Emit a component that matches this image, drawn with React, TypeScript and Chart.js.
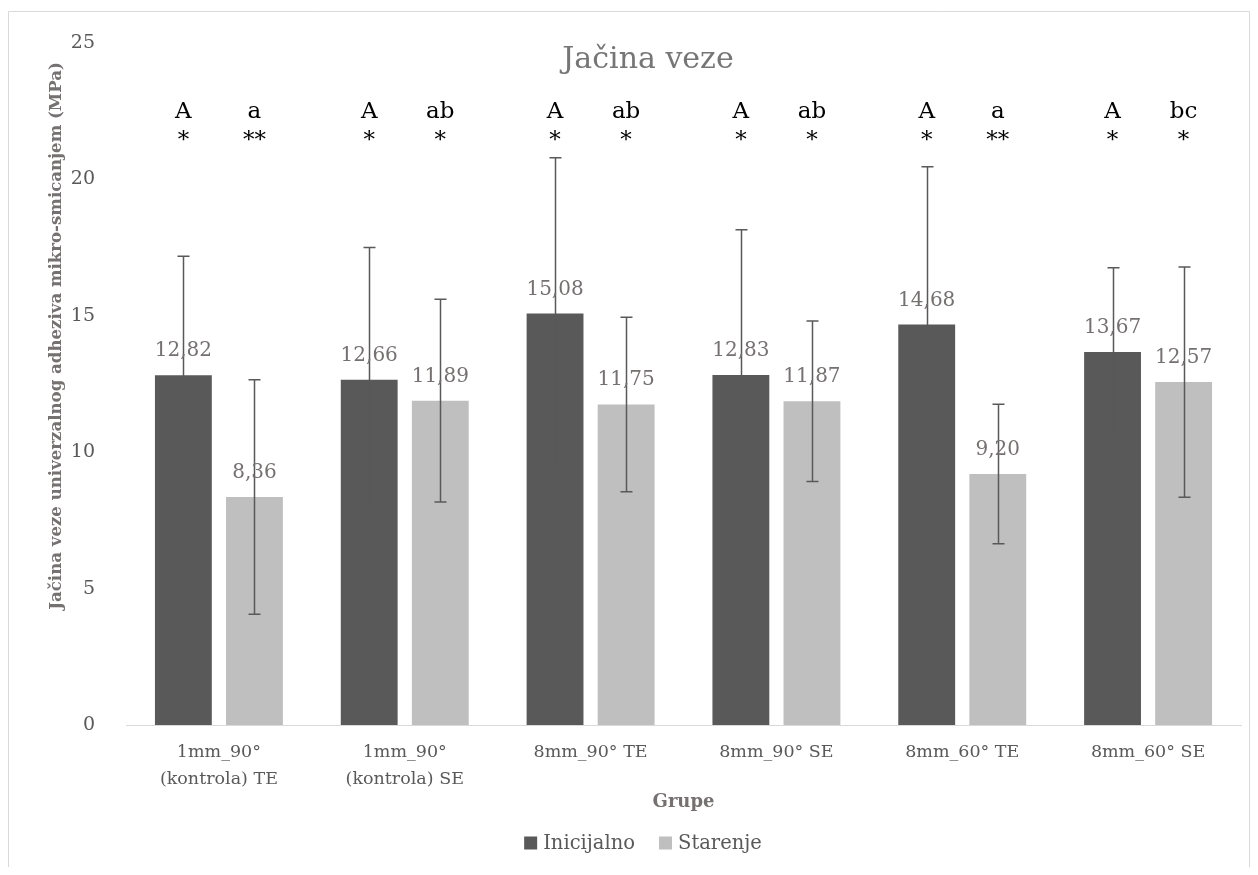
import { useEffect, useRef } from "react";
import { Chart, registerables } from "chart.js";

Chart.register(...registerables);

// Groups shown on the category axis
const categories: (string | string[])[] = [
  ["1mm_90°", "(kontrola) TE"],
  ["1mm_90°", "(kontrola) SE"],
  "8mm_90° TE",
  "8mm_90° SE",
  "8mm_60° TE",
  "8mm_60° SE",
];

// Mean bond strength (MPa)
const inicijalno = [12.82, 12.66, 15.08, 12.83, 14.68, 13.67];
const starenje = [8.36, 11.89, 11.75, 11.87, 9.2, 12.57];

// Standard deviations (error bars)
const inicijalnoSD = [4.36, 4.84, 5.71, 5.32, 5.78, 3.09];
const starenjeSD = [4.3, 3.72, 3.2, 2.94, 2.56, 4.22];

// Significance letters and stars above each bar
const inicijalnoLetters = ["A", "A", "A", "A", "A", "A"];
const starenjeLetters = ["a", "ab", "ab", "ab", "a", "bc"];
const inicijalnoStars = ["*", "*", "*", "*", "*", "*"];
const starenjeStars = ["**", "*", "*", "*", "**", "*"];

const yMin = 0;
const yMax = 25;
const yStep = 5;

const seriesNames = ["Inicijalno", "Starenje"];
const seriesColors = ["#595959", "#BFBFBF"];

const titleText = "Jačina veze";
const yTitle = "Jačina veze univerzalnog adheziva mikro-smicanjem (MPa)";
const xTitle = "Grupe";

const FONT = "'DejaVu Serif', serif";
const W = 1242;
const H = 859;

const sdBySeries = [inicijalnoSD, starenjeSD];
const lettersBySeries = [inicijalnoLetters, starenjeLetters];
const starsBySeries = [inicijalnoStars, starenjeStars];

const fmt = (v: number) => v.toFixed(2).replace(".", ",");

const overlayPlugin = {
  id: "overlay",
  beforeDraw(chart: any) {
    const { ctx } = chart;
    ctx.save();
    ctx.fillStyle = "#ffffff";
    ctx.fillRect(0, 0, chart.width, chart.height);
    // outer frame (runs past the bottom edge)
    ctx.strokeStyle = "#D9D9D9";
    ctx.lineWidth = 1;
    ctx.beginPath();
    ctx.moveTo(0.5, chart.height);
    ctx.lineTo(0.5, 3.5);
    ctx.lineTo(chart.width - 0.5, 3.5);
    ctx.lineTo(chart.width - 0.5, chart.height);
    ctx.stroke();
    ctx.restore();
  },
  afterDatasetsDraw(chart: any) {
    const { ctx } = chart;
    const yScale = chart.scales.y;
    ctx.save();
    // error bars
    chart.data.datasets.forEach((ds: any, di: number) => {
      const meta = chart.getDatasetMeta(di);
      const sd = sdBySeries[di];
      meta.data.forEach((bar: any, i: number) => {
        const v = ds.data[i] as number;
        const x = Math.round(bar.x) + 0.5;
        const top = yScale.getPixelForValue(v + sd[i]);
        const bot = yScale.getPixelForValue(Math.max(v - sd[i], yMin));
        ctx.strokeStyle = "#595959";
        ctx.lineWidth = 1.5;
        ctx.beginPath();
        ctx.moveTo(x, top);
        ctx.lineTo(x, bot);
        ctx.moveTo(x - 6, top);
        ctx.lineTo(x + 6, top);
        ctx.moveTo(x - 6, bot);
        ctx.lineTo(x + 6, bot);
        ctx.stroke();
      });
    });
    // value labels, letters and stars
    chart.data.datasets.forEach((ds: any, di: number) => {
      const meta = chart.getDatasetMeta(di);
      meta.data.forEach((bar: any, i: number) => {
        const v = ds.data[i] as number;
        ctx.textAlign = "center";
        ctx.textBaseline = "alphabetic";
        ctx.fillStyle = "#767171";
        ctx.font = `20px ${FONT}`;
        ctx.fillText(fmt(v), bar.x, bar.y - 19);

        ctx.fillStyle = "#000000";
        ctx.font = `23px ${FONT}`;
        ctx.fillText(lettersBySeries[di][i], bar.x, yScale.getPixelForValue(22.25));
        ctx.fillText(starsBySeries[di][i], bar.x, yScale.getPixelForValue(21.17));
      });
    });
    ctx.restore();
  },
  afterDraw(chart: any) {
    const { ctx, chartArea } = chart;
    ctx.save();
    // chart title
    ctx.fillStyle = "#767676";
    ctx.font = `30px ${FONT}`;
    ctx.textAlign = "center";
    ctx.textBaseline = "middle";
    ctx.fillText(titleText, 640, 52);

    // y axis title
    ctx.save();
    ctx.translate(49, 328);
    ctx.rotate(-Math.PI / 2);
    ctx.fillStyle = "#767171";
    ctx.font = `bold 16.6px ${FONT}`;
    ctx.textAlign = "center";
    ctx.textBaseline = "middle";
    ctx.fillText(yTitle, 0, 0);
    ctx.restore();

    // x axis title
    ctx.fillStyle = "#767171";
    ctx.font = `bold 18px ${FONT}`;
    ctx.textAlign = "center";
    ctx.textBaseline = "middle";
    ctx.fillText(xTitle, (chartArea.left + chartArea.right) / 2, 794);

    // legend
    ctx.font = `19.5px ${FONT}`;
    const box = 13;
    const gap = 6;
    const spacing = 24;
    const widths = chart.data.datasets.map((ds: any) => ctx.measureText(ds.label).width);
    let total = 0;
    widths.forEach((w: number, i: number) => {
      total += box + gap + w + (i < widths.length - 1 ? spacing : 0);
    });
    let lx = 635 - total / 2;
    const ly = 835;
    chart.data.datasets.forEach((ds: any, i: number) => {
      ctx.fillStyle = ds.backgroundColor;
      ctx.fillRect(lx, ly - box / 2, box, box);
      ctx.fillStyle = "#595959";
      ctx.textAlign = "left";
      ctx.textBaseline = "middle";
      ctx.fillText(ds.label, lx + box + gap, ly + 1);
      lx += box + gap + widths[i] + spacing;
    });
    ctx.restore();
  },
};

export default function App() {
  const canvasRef = useRef<HTMLCanvasElement | null>(null);

  useEffect(() => {
    if (!canvasRef.current) return;
    const chart = new Chart(canvasRef.current, {
      type: "bar",
      data: {
        labels: categories,
        datasets: [
          {
            label: seriesNames[0],
            data: inicijalno,
            backgroundColor: seriesColors[0],
            categoryPercentage: 0.765,
            barPercentage: 0.8,
          },
          {
            label: seriesNames[1],
            data: starenje,
            backgroundColor: seriesColors[1],
            categoryPercentage: 0.765,
            barPercentage: 0.8,
          },
        ],
      },
      options: {
        responsive: false,
        animation: false,
        layout: { padding: { top: 35, right: 9, left: 0, bottom: 0 } },
        plugins: {
          legend: { display: false },
          title: { display: false },
          tooltip: { enabled: false },
        },
        scales: {
          x: {
            grid: { display: false },
            border: { display: true, color: "#D9D9D9", width: 1 },
            ticks: {
              color: "#595959",
              font: { family: FONT, size: 17.5, lineHeight: 1.55 },
              padding: 6,
              maxRotation: 0,
              autoSkip: false,
            },
            afterFit(scale: any) {
              scale.height = H - 717;
            },
          },
          y: {
            min: yMin,
            max: yMax,
            grid: { display: false },
            border: { display: false },
            ticks: {
              stepSize: yStep,
              color: "#595959",
              font: { family: FONT, size: 19 },
              padding: 23,
            },
            afterFit(scale: any) {
              scale.width = 118;
            },
          },
        },
      },
      plugins: [overlayPlugin],
    });
    return () => chart.destroy();
  }, []);

  return (
    <div style={{ width: W, height: H }}>
      <canvas ref={canvasRef} width={W} height={H} />
    </div>
  );
}
